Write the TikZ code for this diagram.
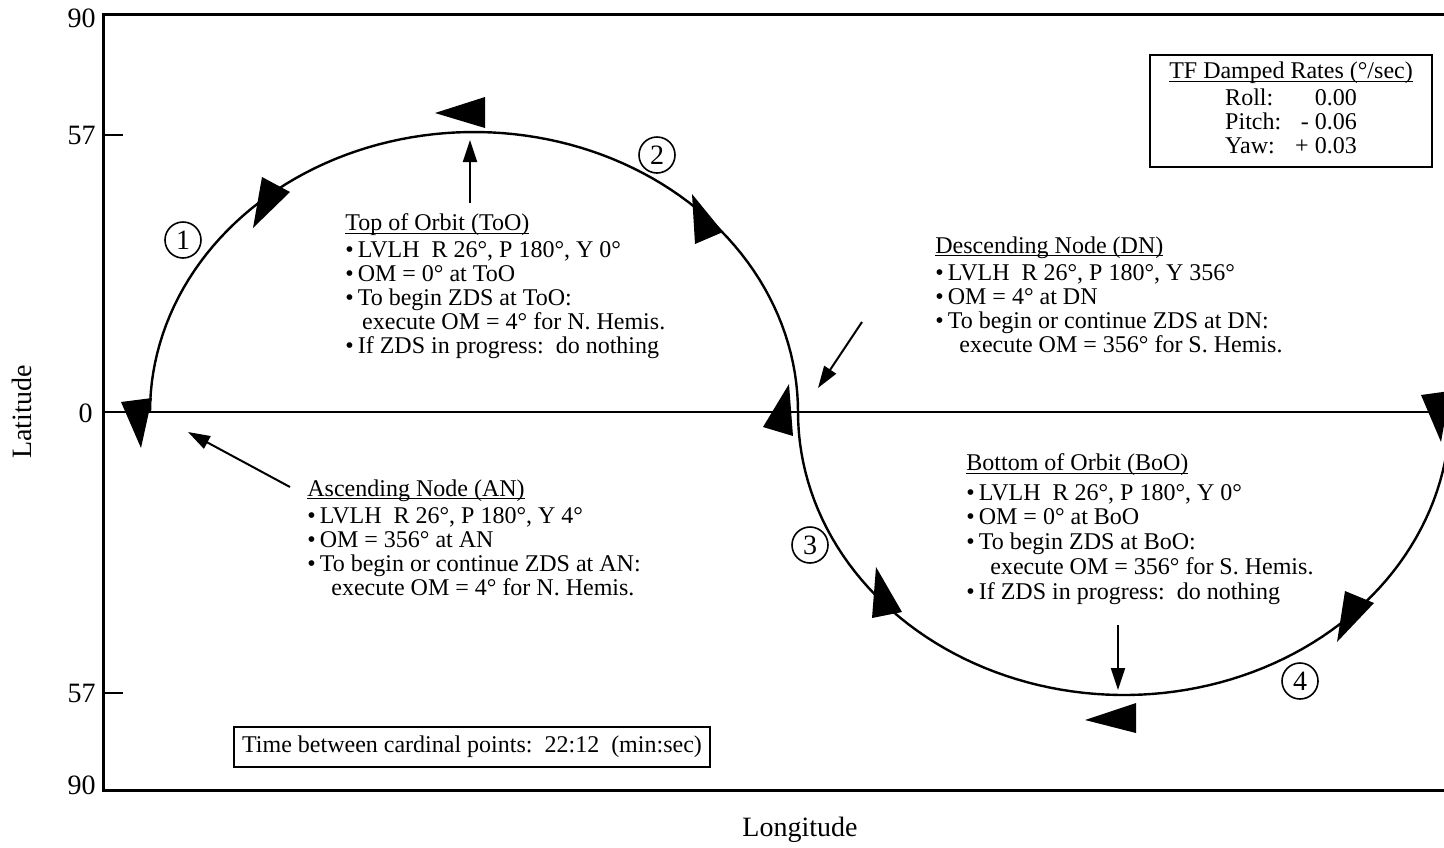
\documentclass[tikz,border=0pt]{standalone}
\usepackage{fontspec}
\setmainfont{Liberation Serif}
\usepackage{tikz}
\usetikzlibrary{arrows.meta,positioning}
\newcommand{\hdr}[1]{\underline{\raisebox{0pt}[\height][0pt]{#1}}}
\tikzset{
  ntxt/.style={align=left, anchor=north west, inner sep=0pt, font=\fontsize{12}{12}\selectfont},
  orb/.style={line width=1.2pt},
  parr/.style={-{Triangle[length=11pt,width=7pt]}, line width=1pt},
  flag/.style={fill=black},
  cnum/.style={draw, circle, line width=0.8pt, inner sep=0pt, minimum size=18pt, font=\fontsize{14}{14}\selectfont},
  tlbl/.style={anchor=east, inner sep=0pt, font=\fontsize{14}{14}\selectfont},
  ibox/.style={draw, line width=1.2pt, align=center, inner sep=2pt, font=\fontsize{12}{12}\selectfont}
}
\begin{document}
\begin{tikzpicture}[x=0.5pt, y=-0.5pt]
\useasboundingbox (0,0) rectangle (1444,847);
\draw[line width=1.5pt] (1444,14) -- (103,14) -- (103,790) -- (1444,790);
\draw[line width=1pt] (103,412) -- (1444,412);
\draw[line width=1pt] (103,135) -- (123,135);
\draw[line width=1pt] (103,693) -- (123,693);
\node[tlbl] (y90a) at (96,18) {90};
\node[tlbl] (y57a) at (96,135) {57};
\node[tlbl] (y0) at (93,413) {0};
\node[tlbl] (y57b) at (96,693) {57};
\node[tlbl] (y90b) at (96,785) {90};
\node[rotate=90, font=\fontsize{14}{14}\selectfont] (lat) at (22,412) {Latitude};
\node[font=\fontsize{14}{14}\selectfont] (lon) at (800,830) {Longitude};
\draw[orb] plot[domain=180:0, samples=90] ({474+324*cos(\x)},{412-280*sin(\x)});
\draw[orb] plot[domain=180:360, samples=90] ({1124+326*cos(\x)},{412-283*sin(\x)});
\fill[flag] (262,177) -- (290,192) -- (253,228) -- cycle;
\fill[flag] (435,113) -- (485,97) -- (485,128) -- cycle;
\fill[flag] (692,194) -- (723,232) -- (695,244) -- cycle;
\fill[flag] (789,384) -- (793,436) -- (763,427) -- cycle;
\fill[flag] (1421,395) -- (1450,391) -- (1441,442) -- cycle;
\fill[flag] (876,567) -- (902,612) -- (872,618) -- cycle;
\fill[flag] (1085,720) -- (1136,703) -- (1136,733) -- cycle;
\fill[flag] (1345,591) -- (1374,603) -- (1337,642) -- cycle;
\fill[flag] (121,402) -- (152,398) -- (141,448) -- cycle;
\node[cnum] (c1) at (183,240) {1};
\node[cnum] (c2) at (657,155) {2};
\node[cnum] (c3) at (810,545) {3};
\node[cnum] (c4) at (1300,681) {4};
\node[ntxt] (too) at (345,213) {\hdr{Top of Orbit (ToO)}\\[1.5pt]
  \textbullet\,LVLH\ \ R 26°, P 180°, Y 0°\\
  \textbullet\,OM = 0° at ToO\\
  \textbullet\,To begin ZDS at ToO:\\
  \hspace*{0.7em}execute OM = 4° for N. Hemis.\\
  \textbullet\,If ZDS in progress:\ \ do nothing};
\node[ntxt] (dn) at (935,236) {\hdr{Descending Node (DN)}\\[1.5pt]
  \textbullet\,LVLH\ \ R 26°, P 180°, Y 356°\\
  \textbullet\,OM = 4° at DN\\
  \textbullet\,To begin or continue ZDS at DN:\\
  \hspace*{1em}execute OM = 356° for S. Hemis.};
\node[ntxt] (an) at (307,479) {\hdr{Ascending Node (AN)}\\[1.5pt]
  \textbullet\,LVLH\ \ R 26°, P 180°, Y 4°\\
  \textbullet\,OM = 356° at AN\\
  \textbullet\,To begin or continue ZDS at AN:\\
  \hspace*{1em}execute OM = 4° for N. Hemis.};
\node[ntxt, font=\fontsize{12}{12.4}\selectfont] (boo) at (966,453) {\hdr{Bottom of Orbit (BoO)}\\[2.5pt]
  \textbullet\,LVLH\ \ R 26°, P 180°, Y 0°\\
  \textbullet\,OM = 0° at BoO\\
  \textbullet\,To begin ZDS at BoO:\\
  \hspace*{1em}execute OM = 356° for S. Hemis.\\
  \textbullet\,If ZDS in progress:\ \ do nothing};
\coordinate (tooA) at (470,203);
\coordinate (tooB) at (470,140);
\coordinate (dnA) at (862,322);
\coordinate (dnB) at (818,388);
\coordinate (anA) at (290,487);
\coordinate (anB) at (188,432);
\coordinate (booA) at (1118,625);
\coordinate (booB) at (1118,690);
\draw[parr] (tooA) -- (tooB);
\draw[parr] (dnA) -- (dnB);
\draw[parr] (anA) -- (anB);
\draw[parr] (booA) -- (booB);
\node[ibox, minimum width=141pt, minimum height=56pt] (tf) at (1291,111) {\hdr{TF Damped Rates (°/sec)}\\[2pt]
  \begin{tabular}{@{}l@{\hspace{7pt}}r@{}}Roll: & 0.00\\ Pitch: & - 0.06\\ Yaw: & + 0.03\end{tabular}};
\node[ibox, minimum width=238pt, minimum height=20pt] (tbox) at (472,747) {Time between cardinal points:\ \ 22:12\ \ (min:sec)};
\end{tikzpicture}
\end{document}
